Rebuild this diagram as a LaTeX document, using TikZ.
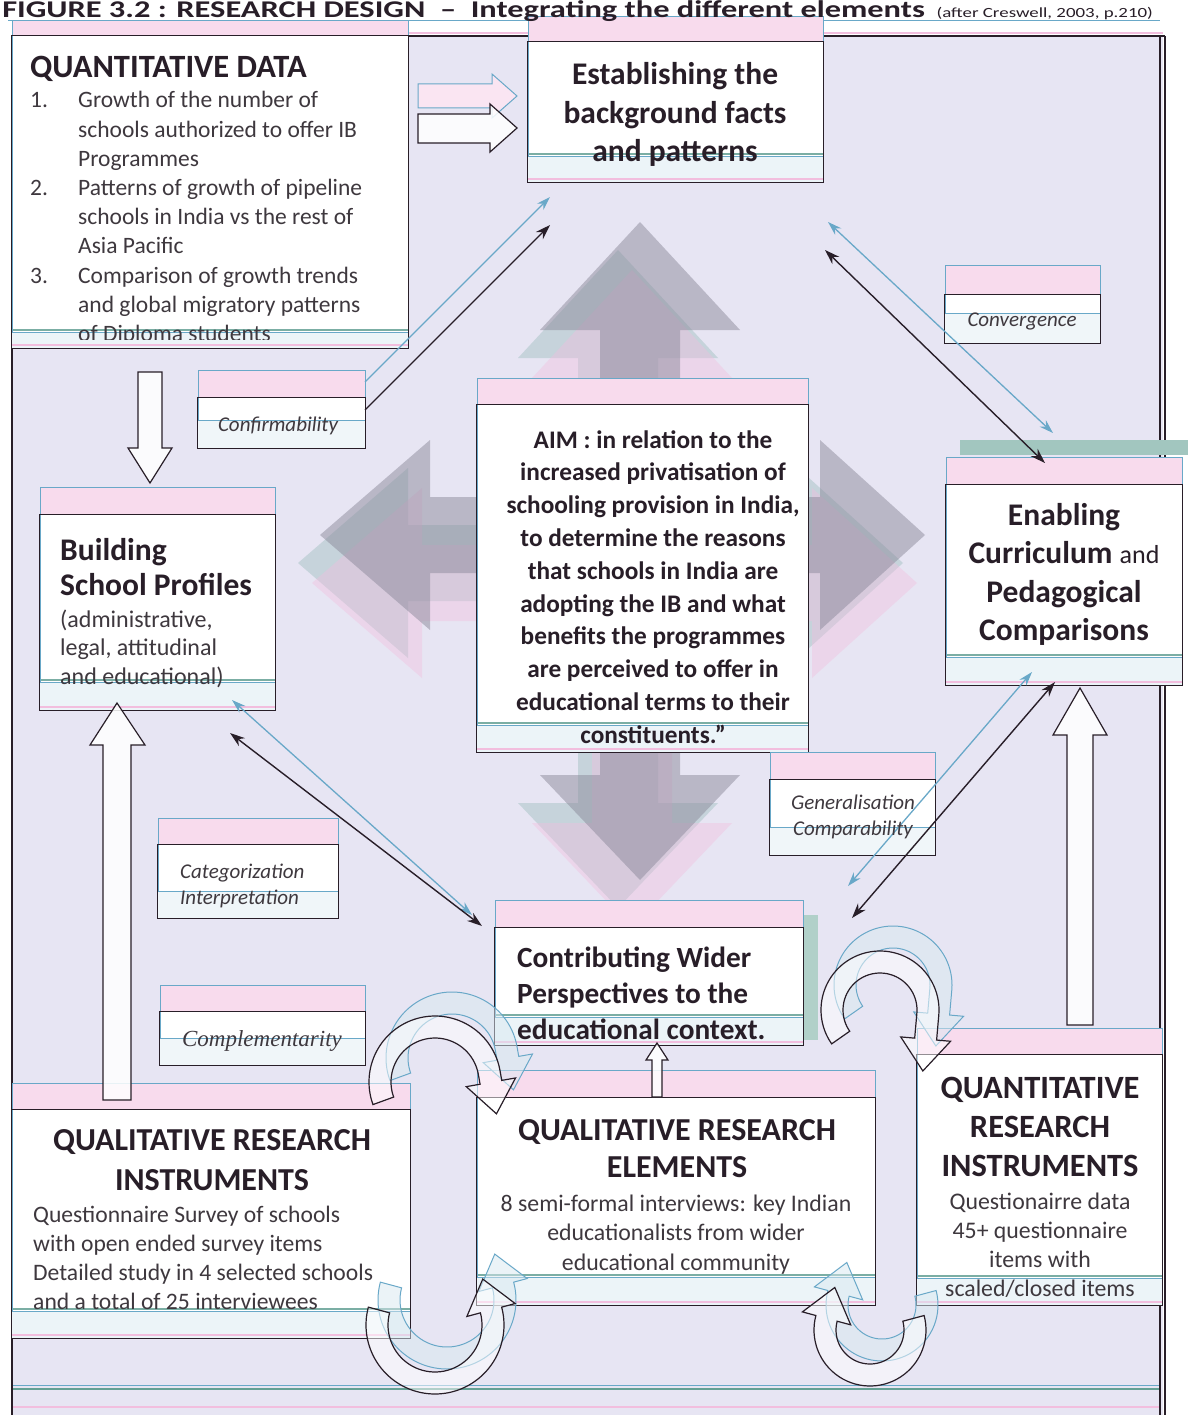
\documentclass[tikz,border=0pt]{standalone}
\usepackage{fontspec}
\setmainfont{Carlito}
\newfontfamily\timesfam{Liberation Serif}
\usetikzlibrary{calc,arrows.meta}
\definecolor{lav}{RGB}{231,229,243}
\definecolor{gblue}{RGB}{105,168,200}
\definecolor{gpink}{RGB}{242,190,222}
\definecolor{gteal}{RGB}{100,160,148}
\definecolor{ink}{RGB}{40,30,40}
\definecolor{bodyc}{RGB}{62,56,62}
\definecolor{crossgray}{RGB}{140,138,155}
\newcommand{\fs}[2]{\fontsize{#1}{#2}\selectfont}
% main box with misregistered ghost layers: name, x1, y1, x2, y2, ghost offset
\newcommand{\mainbox}[6]{%
  \fill[gpink!55] (#2,#3-#6) rectangle (#4,#3);
  \node[inner sep=0, fill=white, minimum width={#4-#2}, minimum height={#5-#3}] (#1) at ({(#2+#4)/2},{(#3+#5)/2}) {};
  \fill[gblue!13] (#2,#5-#6) rectangle (#4,#5);
  \draw[gteal!85, line width=2.5pt] (#2,#5-#6-2) -- (#4,#5-#6-2);
  \draw[gblue, line width=.8pt] (#2,#3-#6) rectangle (#4,#5-#6);
  \draw[gpink, line width=2pt] (#2,#5-3) -- (#4,#5-3);
  \draw[ink, line width=1.3pt] (#1.north west) rectangle (#1.south east);
}
\newcommand{\labelbox}[6]{%
  \fill[gpink!55] (#2,#3-#6) rectangle (#4,#3);
  \node[inner sep=0, fill=white, minimum width={#4-#2}, minimum height={#5-#3}] (#1) at ({(#2+#4)/2},{(#3+#5)/2}) {};
  \fill[gblue!10] (#2,#5-#6) rectangle (#4,#5);
  \draw[gblue, line width=.8pt] (#2,#3-#6) rectangle (#4,#5-#6);
  \draw[ink, line width=1.2pt] (#1.north west) rectangle (#1.south east);
}
% hollow curved arrow: style, cx, cy, r, start angle, end angle, straight extension, direction (+1/-1)
% angles are screen angles (y downwards): 270 = up, 90 = down
\newcommand{\hollowarc}[8]{%
  \pgfmathsetmacro\hta{#6+90*(#8)}%
  \pgfmathsetmacro\hca{cos(#6)}\pgfmathsetmacro\hsa{sin(#6)}%
  \pgfmathsetmacro\hct{cos(\hta)}\pgfmathsetmacro\hst{sin(\hta)}%
  \pgfmathsetmacro\hro{#4+11}%
  \pgfmathsetmacro\hri{#4-11}%
  \pgfmathsetmacro\hho{#4+25}%
  \pgfmathsetmacro\hhi{#4-25}%
  \pgfmathsetmacro\htl{#7+32}%
  \draw[#1] plot[domain=#5:#6, samples=48, smooth] ({#2+\hro*cos(\x)},{#3+\hro*sin(\x)})
    -- ({#2+\hro*\hca+#7*\hct},{#3+\hro*\hsa+#7*\hst})
    -- ({#2+\hho*\hca+#7*\hct},{#3+\hho*\hsa+#7*\hst})
    -- ({#2+#4*\hca+\htl*\hct},{#3+#4*\hsa+\htl*\hst})
    -- ({#2+\hhi*\hca+#7*\hct},{#3+\hhi*\hsa+#7*\hst})
    -- ({#2+\hri*\hca+#7*\hct},{#3+\hri*\hsa+#7*\hst})
    -- plot[domain=#6:#5, samples=48, smooth] ({#2+\hri*cos(\x)},{#3+\hri*sin(\x)}) -- cycle;
}
\tikzset{
  conn/.style={draw=ink, line width=1.4pt, -{Stealth[length=15pt,width=10pt]}},
  conntwo/.style={draw=ink, line width=1.4pt, {Stealth[length=15pt,width=10pt]}-{Stealth[length=15pt,width=10pt]}},
  ghostconn/.style={draw=gblue, line width=1.3pt, -{Stealth[length=14pt,width=9pt]}},
  ghostconntwo/.style={draw=gblue, line width=1.3pt, {Stealth[length=14pt,width=9pt]}-{Stealth[length=14pt,width=9pt]}},
  blockarrow/.style={draw=ink, line width=1.2pt, fill=white, fill opacity=.85},
  ghostblock/.style={draw=gblue, line width=1pt, fill=gpink!40},
  curvemain/.style={draw=ink, line width=1.2pt, fill=white, fill opacity=.5},
  curveghost/.style={draw=gblue, line width=1pt, fill=gblue!25, fill opacity=.5},
  ttl/.style={inner sep=0, text=ink, font=\bfseries\fs{32}{38}},
  bodytxt/.style={inner sep=0, text=bodyc, font=\fs{23.5}{29.2}},
  lbl/.style={inner sep=0, text=bodyc, font=\itshape\fs{21}{26.5}}
}
\begin{document}
\begin{tikzpicture}[x=1pt, y=-1pt]
\useasboundingbox (0,0) rectangle (1188,1415);
\fill[white] (0,0) rectangle (1188,1415);
\fill[lav] (12,36) rectangle (1163,1415);

% big background cross arrow with ghost copies
\foreach \dx/\dy/\col/\op in {-22/28/gteal/0.25, -8/48/gpink/0.40, 0/0/crossgray/0.50}{
  \fill[\col, opacity=\op, shift={(\dx,\dy)}] (640,222) -- (740,330) -- (680,330) -- (680,497) -- (820,497) -- (820,440) -- (925,535) -- (820,630) -- (820,573) -- (680,573) -- (680,775) -- (740,775) -- (640,880) -- (540,775) -- (600,775) -- (600,573) -- (430,573) -- (430,630) -- (320,535) -- (430,440) -- (430,497) -- (600,497) -- (600,330) -- (540,330) -- cycle;
}

% outer frame
\draw[gblue, line width=.8pt] (8,20) -- (1160,20);
\draw[gpink, line width=2pt] (12,33) -- (1163,33);
\draw[gblue, line width=1pt] (12,1385) -- (1160,1385);
\draw[gteal, line width=2pt] (12,1389) -- (1160,1389);
\draw[gpink, line width=2.5pt] (12,1407) -- (1160,1407);
\draw[ink, line width=1.5pt] (12,36) -- (1165,36);
\draw[ink, line width=1.5pt] (12,36) -- (12,1415);
\draw[ink, line width=1.3pt] (1160,36) -- (1160,1415);
\draw[ink, line width=1.3pt] (1165,36) -- (1165,1415);

% main boxes
\mainbox{qd}{12}{36}{408}{348}{16}
\mainbox{est}{528}{42}{823}{182}{26}
\fill[gteal!60] (960,440) rectangle (1188,455);
\mainbox{enb}{946}{485}{1182}{685}{28}
\mainbox{bsp}{40}{515}{275}{710}{28}
\mainbox{aim}{477}{405}{808}{752}{27}
\fill[gteal!50] (803,915) rectangle (818,1040);
\mainbox{cwp}{495}{928}{803}{1045}{28}
\mainbox{qri}{12}{1110}{410}{1338}{27}
\mainbox{qre}{477}{1098}{875}{1305}{28}
\mainbox{qti}{917}{1055}{1162}{1305}{27}

% header
\node[anchor=base west, inner sep=0, text=ink, font=\bfseries\fs{24}{24}, xscale=1.35] (hdr) at (2,18)
  {FIGURE 3.2 : RESEARCH DESIGN \ – \ Integrating the different elements {\mdseries\fs{14}{14} (after Creswell, 2003, p.210)}};

% label boxes
\labelbox{conf}{198}{398}{365}{448}{28}
\labelbox{conv}{945}{295}{1100}{343}{30}
\labelbox{gen}{770}{780}{935}{855}{28}
\labelbox{cat}{158}{845}{338}{918}{27}
\labelbox{comp}{160}{1012}{365}{1065}{27}

% straight hollow block arrows
\draw[ghostblock] (418,84) -- (492,84) -- (492,74) -- (517,96) -- (492,118) -- (492,108) -- (418,108) -- cycle;
\draw[blockarrow] (418,114) -- (490,114) -- (490,104) -- (517,128) -- (490,152) -- (490,143) -- (418,143) -- cycle;
\draw[blockarrow] (138,372) -- (138,448) -- (128,448) -- (150,483) -- (172,448) -- (162,448) -- (162,372) -- cycle;
\draw[blockarrow] (103,1100) -- (103,745) -- (90,745) -- (117,703) -- (145,745) -- (131,745) -- (131,1100) -- cycle;
\draw[blockarrow] (1067,1025) -- (1067,735) -- (1053,735) -- (1080,688) -- (1107,735) -- (1093,735) -- (1093,1025) -- cycle;
\draw[blockarrow] (652,1097) -- (652,1060) -- (646,1060) -- (657,1043) -- (668,1060) -- (662,1060) -- (662,1097) -- cycle;

% curved hollow arrows (ghost copies first)
\hollowarc{curveghost}{452}{1058}{55}{160}{350}{10}{1}
\hollowarc{curvemain}{435}{1082}{55}{160}{350}{10}{1}
\hollowarc{curveghost}{447}{1300}{58}{195}{-15}{0}{-1}
\hollowarc{curvemain}{435}{1325}{58}{195}{-15}{0}{-1}
\hollowarc{curveghost}{893}{985}{48}{145}{365}{25}{1}
\hollowarc{curvemain}{880}{1010}{48}{145}{365}{25}{1}
\hollowarc{curveghost}{882}{1305}{45}{-15}{195}{0}{1}
\hollowarc{curvemain}{870}{1330}{45}{-15}{195}{0}{1}

% connectors
\coordinate (cfA) at (365,410); \coordinate (esA) at (550,225);
\coordinate (cfG) at (365,382); \coordinate (esG) at (550,197);
\coordinate (esB) at (825,250); \coordinate (enB) at (1045,463);
\coordinate (esH) at (828,222); \coordinate (enH) at (1053,433);
\coordinate (bsC) at (230,733); \coordinate (cwC) at (482,926);
\coordinate (bsI) at (232,700); \coordinate (cwI) at (472,915);
\coordinate (enD) at (1055,682); \coordinate (cwD) at (852,918);
\coordinate (enJ) at (1032,672); \coordinate (cwJ) at (848,886);
\draw[ghostconn] (cfG) -- (esG);
\draw[ghostconntwo] (esH) -- (enH);
\draw[ghostconntwo] (bsI) -- (cwI);
\draw[ghostconntwo] (enJ) -- (cwJ);
\draw[conn] (cfA) -- (esA);
\draw[conntwo] (esB) -- (enB);
\draw[conntwo] (bsC) -- (cwC);
\draw[conntwo] (enD) -- (cwD);

% texts
\node[ttl, anchor=base west, font=\bfseries\fs{32.5}{38}] (qdT) at (30,78) {QUANTITATIVE DATA};
\begin{scope}
\clip (12,36) rectangle (408,339);
\node[bodytxt, anchor=base west] (qdL) at (30,108) {\begin{tabular}[t]{@{}p{48pt}@{}l@{}}1. & Growth of the number of\\ & schools authorized to offer IB\\ & Programmes\\ 2. & Patterns of growth of pipeline\\ & schools in India vs the rest of\\ & Asia Pacific\\ 3. & Comparison of growth trends\\ & and global migratory patterns\\ & of Diploma students\end{tabular}};
\end{scope}

\node[ttl, anchor=base, font=\bfseries\fs{31.5}{38.5}] (estT) at (675,85) {\parbox[t]{292pt}{\centering Establishing the\\ background facts\\ and patterns}};

\node[ttl, anchor=base, font=\bfseries\fs{25.3}{32.8}] (aimT) at (653,448) {\parbox[t]{325pt}{\centering AIM : in relation to the\\ increased privatisation of\\ schooling provision in India,\\ to determine the reasons\\ that schools in India are\\ adopting the IB and what\\ benefits the programmes\\ are perceived to offer in\\ educational terms to their\\ constituents.”}};

\node[ttl, anchor=base west, font=\bfseries\fs{31.5}{35}] (bspT) at (60,560) {\parbox[t]{212pt}{\raggedright Building\\ School Profiles}};
\node[bodytxt, anchor=base west, font=\fs{24}{28.5}] (bspB) at (60,627) {\parbox[t]{212pt}{\raggedright (administrative,\\ legal, attitudinal\\ and educational)}};

\node[ttl, anchor=base, font=\bfseries\fs{31.5}{38.5}] (enbT) at (1064,525) {\parbox[t]{236pt}{\centering Enabling\\ Curriculum {\mdseries\fs{26}{38.5}and}\\ Pedagogical\\ Comparisons}};

\node[ttl, anchor=base west, font=\bfseries\fs{29.3}{36}] (cwpT) at (517,967) {\parbox[t]{285pt}{\raggedright Contributing Wider\\ Perspectives to the\\ educational context.}};

\node[ttl, anchor=base, font=\bfseries\fs{32}{40}] (qriT) at (212,1150) {\parbox[t]{396pt}{\centering QUALITATIVE RESEARCH\\ INSTRUMENTS}};
\node[bodytxt, anchor=base west, font=\fs{23.6}{29}] (qriB) at (33,1222) {\parbox[t]{375pt}{\raggedright Questionnaire Survey of schools\\ with open ended survey items\\ Detailed study in 4 selected schools\\ and a total of 25 interviewees}};

\node[ttl, anchor=base, font=\bfseries\fs{32}{37}] (qreT) at (677,1140) {\parbox[t]{396pt}{\centering QUALITATIVE RESEARCH\\ ELEMENTS}};
\node[bodytxt, anchor=base, font=\fs{23.8}{29.5}] (qreB) at (676,1211) {\parbox[t]{396pt}{\centering 8 semi-formal interviews: key Indian\\ educationalists from wider\\ educational community}};

\node[ttl, anchor=base, font=\bfseries\fs{32.5}{39}] (qtiT) at (1040,1098) {\parbox[t]{244pt}{\centering QUANTITATIVE\\ RESEARCH\\ INSTRUMENTS}};
\node[bodytxt, anchor=base, font=\fs{23.8}{29.3}] (qtiB) at (1040,1209) {\parbox[t]{244pt}{\centering Questionairre data\\ 45+ questionnaire\\ items with\\ scaled/closed items}};

\node[lbl, anchor=base] (confT) at (278,431) {Confirmability};
\node[lbl, anchor=base] (convT) at (1022,326) {Convergence};
\node[lbl, anchor=base] (genT) at (853,809) {\parbox[t]{160pt}{\centering Generalisation\\ Comparability}};
\node[lbl, anchor=base west, font=\itshape\fs{21}{26}] (catT) at (180,878) {\parbox[t]{155pt}{\raggedright Categorization\\ Interpretation}};
\node[lbl, anchor=base, font=\timesfam\itshape\fs{23}{23}] (compT) at (262,1046) {Complementarity};
\end{tikzpicture}
\end{document}
